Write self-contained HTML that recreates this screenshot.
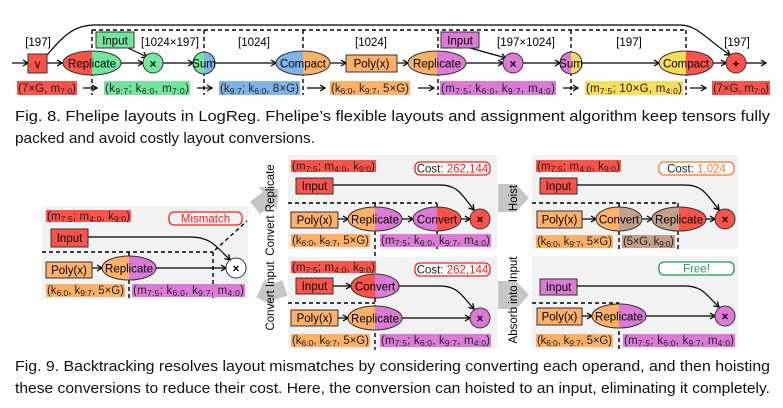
<!DOCTYPE html>
<html><head><meta charset="utf-8"><style>
html,body{margin:0;padding:0;background:#fff;}
svg{display:block;font-family:"Liberation Sans","DejaVu Sans",sans-serif;}
</style></head><body>
<svg width="783" height="408" viewBox="0 0 783 408" xmlns="http://www.w3.org/2000/svg">
<defs>
<marker id="a" markerWidth="8" markerHeight="8" refX="6" refY="4" orient="auto" markerUnits="userSpaceOnUse">
<path d="M1,1 L6,4 L1,7" fill="none" stroke="#000" stroke-width="1.3"/></marker>
</defs>
<style>
.t{font-size:11.5px;fill:#000}
.l{font-size:11.5px;fill:#222}
.s{font-size:8.5px}
.ln{stroke:#000;stroke-width:1.2;fill:none}
.d{stroke:#000;stroke-width:1.4;stroke-dasharray:4,3;fill:none}
.o{stroke:#333;stroke-width:1;}
</style>

<!-- ============ FIG 8 ============ -->
<path class="ln" d="M47,55 C62,38 72,25 95,25 L680,25 C697,25 705,38 730,55" marker-end="url(#a)"/>
<path class="d" d="M92,30 H686 M92,30 V95 M204,30 V95 M303,30 V95 M438,30 V95 M571,30 V95 M686,30 V95"/>

<g class="t" text-anchor="middle">
<text x="38" y="46">[197]</text>
<text x="170" y="46">[1024×197]</text>
<text x="254" y="46">[1024]</text>
<text x="371" y="46">[1024]</text>
<text x="526" y="46">[197×1024]</text>
<text x="629" y="46">[197]</text>
<text x="737" y="46">[197]</text>
</g>

<g class="ln" marker-end="url(#a)">
<line x1="12" y1="63" x2="28" y2="63"/>
<line x1="47" y1="63" x2="62" y2="63"/>
<line x1="120" y1="63" x2="143" y2="63"/>
<line x1="163" y1="63" x2="193" y2="63"/>
<line x1="215" y1="63" x2="276" y2="63"/>
<line x1="330" y1="63" x2="346" y2="63"/>
<line x1="397" y1="63" x2="408" y2="63"/>
<line x1="466" y1="63" x2="503" y2="63"/>
<line x1="523" y1="63" x2="560" y2="63"/>
<line x1="582" y1="63" x2="659" y2="63"/>
<line x1="712" y1="63" x2="726" y2="63"/>
<line x1="746" y1="63" x2="766" y2="63"/>
<line x1="128" y1="48" x2="147" y2="57"/>
<line x1="470" y1="48" x2="506" y2="58"/>
</g>

<rect x="28" y="54" width="19" height="19" fill="#f9534a" class="o"/>
<text x="37.5" y="68" class="t" text-anchor="middle">v</text>
<path d="M92,51 A29,12 0 0 0 92,75 Z" fill="#f9534a"/><path d="M92,51 A29,12 0 0 1 92,75 Z" fill="#72e69d"/>
<ellipse cx="92" cy="63" rx="29" ry="12" fill="none" class="o"/>
<text x="92" y="67.5" class="t" text-anchor="middle">Replicate</text>
<rect x="96" y="32" width="38" height="16" fill="#72e69d" class="o"/>
<text x="115" y="44.5" class="t" text-anchor="middle">Input</text>
<circle cx="153" cy="63" r="10" fill="#72e69d" class="o"/>
<text x="153" y="68" class="t" text-anchor="middle" font-weight="bold">×</text>
<path d="M204,52 A11,11 0 0 0 204,74 Z" fill="#72e69d"/><path d="M204,52 A11,11 0 0 1 204,74 Z" fill="#80b3e8"/>
<circle cx="204" cy="63" r="11" fill="none" class="o"/>
<text x="204" y="67.5" class="t" text-anchor="middle">Sum</text>
<path d="M303,51 A27,12 0 0 0 303,75 Z" fill="#80b3e8"/><path d="M303,51 A27,12 0 0 1 303,75 Z" fill="#fdb068"/>
<ellipse cx="303" cy="63" rx="27" ry="12" fill="none" class="o"/>
<text x="303" y="67.5" class="t" text-anchor="middle">Compact</text>
<rect x="346" y="55" width="51" height="17" fill="#fdb068" class="o"/>
<text x="371.5" y="67.5" class="t" text-anchor="middle">Poly(x)</text>
<path d="M437,51 A29,12 0 0 0 437,75 Z" fill="#fdb068"/><path d="M437,51 A29,12 0 0 1 437,75 Z" fill="#db7bd7"/>
<ellipse cx="437" cy="63" rx="29" ry="12" fill="none" class="o"/>
<text x="437" y="67.5" class="t" text-anchor="middle">Replicate</text>
<rect x="441" y="32" width="38" height="16" fill="#db7bd7" class="o"/>
<text x="460" y="44.5" class="t" text-anchor="middle">Input</text>
<circle cx="513" cy="63" r="10" fill="#db7bd7" class="o"/>
<text x="513" y="68" class="t" text-anchor="middle" font-weight="bold">×</text>
<path d="M571,52 A11,11 0 0 0 571,74 Z" fill="#db7bd7"/><path d="M571,52 A11,11 0 0 1 571,74 Z" fill="#f6dd5c"/>
<circle cx="571" cy="63" r="11" fill="none" class="o"/>
<text x="571" y="67.5" class="t" text-anchor="middle">Sum</text>
<path d="M686,51 A27,12 0 0 0 686,75 Z" fill="#f6dd5c"/><path d="M686,51 A27,12 0 0 1 686,75 Z" fill="#f9534a"/>
<ellipse cx="686" cy="63" rx="27" ry="12" fill="none" class="o"/>
<text x="686" y="67.5" class="t" text-anchor="middle">Compact</text>
<circle cx="736" cy="63" r="10" fill="#f9534a" class="o"/>
<text x="736" y="68" class="t" text-anchor="middle" font-weight="bold">+</text>

<rect x="17" y="81" width="60" height="14" fill="#f9534a"/>
<rect x="104" y="81" width="86" height="14" fill="#72e69d"/>
<rect x="219" y="81" width="81" height="14" fill="#80b3e8"/>
<rect x="330" y="81" width="80" height="14" fill="#fdb068"/>
<rect x="440" y="81" width="116" height="14" fill="#db7bd7"/>
<rect x="585" y="81" width="98" height="14" fill="#f6dd5c"/>
<rect x="712" y="81" width="58" height="14" fill="#f9534a"/>
<g class="l">
<text x="18" y="92" textLength="58">(7×G, m<tspan class="s" dy="2">7:0</tspan><tspan dy="-2">)</tspan></text>
<text x="105" y="92" textLength="84">(k<tspan class="s" dy="2">9:7</tspan><tspan dy="-2">; k</tspan><tspan class="s" dy="2">6:0</tspan><tspan dy="-2">, m</tspan><tspan class="s" dy="2">7:0</tspan><tspan dy="-2">)</tspan></text>
<text x="220" y="92" textLength="79">(k<tspan class="s" dy="2">9:7</tspan><tspan dy="-2">; k</tspan><tspan class="s" dy="2">6:0</tspan><tspan dy="-2">, 8×G)</tspan></text>
<text x="331" y="92" textLength="78">(k<tspan class="s" dy="2">6:0</tspan><tspan dy="-2">, k</tspan><tspan class="s" dy="2">9:7</tspan><tspan dy="-2">, 5×G)</tspan></text>
<text x="441" y="92" textLength="114">(m<tspan class="s" dy="2">7:5</tspan><tspan dy="-2">; k</tspan><tspan class="s" dy="2">6:0</tspan><tspan dy="-2">, k</tspan><tspan class="s" dy="2">9:7</tspan><tspan dy="-2">, m</tspan><tspan class="s" dy="2">4:0</tspan><tspan dy="-2">)</tspan></text>
<text x="586" y="92" textLength="96">(m<tspan class="s" dy="2">7:5</tspan><tspan dy="-2">; 10×G, m</tspan><tspan class="s" dy="2">4:0</tspan><tspan dy="-2">)</tspan></text>
<text x="713" y="92" textLength="56">(7×G, m<tspan class="s" dy="2">7:0</tspan><tspan dy="-2">)</tspan></text>
</g>
<g class="ln" marker-end="url(#a)">
<line x1="83" y1="88" x2="97" y2="88"/><line x1="197" y1="88" x2="212" y2="88"/>
<line x1="307" y1="88" x2="325" y2="88"/><line x1="418" y1="88" x2="434" y2="88"/>
<line x1="563" y1="88" x2="578" y2="88"/><line x1="690" y1="88" x2="706" y2="88"/>
</g>

<g font-family="'Liberation Sans',sans-serif" font-size="15" fill="#111">
<text x="15" y="121" textLength="755" lengthAdjust="spacingAndGlyphs">Fig. 8.  Fhelipe layouts in LogReg. Fhelipe’s flexible layouts and assignment algorithm keep tensors fully</text>
<text x="15" y="143" textLength="300" lengthAdjust="spacingAndGlyphs">packed and avoid costly layout conversions.</text>
</g>

<!-- ============ FIG 9 ============ -->
<g fill="#f2f2f2">
<rect x="42" y="206" width="206" height="93"/>
<rect x="288" y="155" width="209" height="94"/>
<rect x="288" y="257" width="209" height="92"/>
<rect x="532" y="155" width="206" height="94"/>
<rect x="532" y="256" width="206" height="93"/>
</g>

<g fill="#c6c6c6">
<polygon points="0,-8 16,-8 16,-15 30,0 16,15 16,8 0,8" transform="translate(255,208) rotate(-38)"/>
<polygon points="0,-8 16,-8 16,-15 30,0 16,15 16,8 0,8" transform="translate(285,288) rotate(162)"/>
<polygon points="498,184 516,184 529,198 516,212 498,212"/>
<polygon points="498,281 516,281 529,295 516,309 498,309"/>
</g>
<g class="t" text-anchor="middle" font-size="11.5">
<text transform="translate(274,210) rotate(-90)">Convert Replicate</text>
<text transform="translate(274,296) rotate(-90)">Convert Input</text>
<text transform="translate(517,198) rotate(-90)">Hoist</text>
<text transform="translate(517,300) rotate(-90)">Absorb into Input</text>
</g>

<!-- left panel -->
<rect x="46" y="210" width="85" height="12" fill="#f9534a"/>
<text x="47" y="220" class="l" textLength="83">(m<tspan class="s" dy="2">7:5</tspan><tspan dy="-2">; m</tspan><tspan class="s" dy="2">4:0</tspan><tspan dy="-2">, k</tspan><tspan class="s" dy="2">9:0</tspan><tspan dy="-2">)</tspan></text>
<rect x="169" y="212" width="73" height="13" rx="5" fill="#f2f2f2" stroke="#e22" stroke-width="1.3"/>
<text x="205.5" y="222.5" class="l" style="fill:#e22" text-anchor="middle">Mismatch</text>
<rect x="51" y="229" width="37" height="18" fill="#f9534a" class="o"/>
<text x="69.5" y="242" class="t" text-anchor="middle">Input</text>
<path class="ln" d="M88,237 H190 C210,237 215,245 230,260" marker-end="url(#a)"/>
<path class="d" d="M42,252 H213 M129,252 V300 M213,252 V300 M215,250 L247,221"/>
<rect x="46" y="262" width="46" height="16" fill="#fdb068" class="o"/>
<text x="69" y="274" class="t" text-anchor="middle">Poly(x)</text>
<line class="ln" x1="92" y1="268" x2="102" y2="268" marker-end="url(#a)"/>
<path d="M129,256 A27,12 0 0 0 129,280 Z" fill="#fdb068"/><path d="M129,256 A27,12 0 0 1 129,280 Z" fill="#db7bd7"/>
<ellipse cx="129" cy="268" rx="27" ry="12" fill="none" class="o"/>
<text x="129" y="272.5" class="t" text-anchor="middle">Replicate</text>
<line class="ln" x1="156" y1="268" x2="226" y2="268" marker-end="url(#a)"/>
<circle cx="236" cy="268" r="10" fill="#fff" class="o"/>
<text x="236" y="272.5" class="t" text-anchor="middle" font-weight="bold">×</text>
<rect x="46" y="284" width="79" height="13" fill="#fdb068"/>
<rect x="132" y="284" width="113" height="13" fill="#db7bd7"/>
<text x="47" y="294" class="l" textLength="77">(k<tspan class="s" dy="2">6:0</tspan><tspan dy="-2">, k</tspan><tspan class="s" dy="2">9:7</tspan><tspan dy="-2">, 5×G)</tspan></text>
<text x="133" y="294" class="l" textLength="111">(m<tspan class="s" dy="2">7:5</tspan><tspan dy="-2">; k</tspan><tspan class="s" dy="2">6:0</tspan><tspan dy="-2">, k</tspan><tspan class="s" dy="2">9:7</tspan><tspan dy="-2">, m</tspan><tspan class="s" dy="2">4:0</tspan><tspan dy="-2">)</tspan></text>

<!-- top-middle panel -->
<rect x="291" y="160" width="85" height="12" fill="#f9534a"/>
<text x="292" y="170" class="l" textLength="83">(m<tspan class="s" dy="2">7:5</tspan><tspan dy="-2">; m</tspan><tspan class="s" dy="2">4:0</tspan><tspan dy="-2">, k</tspan><tspan class="s" dy="2">9:0</tspan><tspan dy="-2">)</tspan></text>
<rect x="415" y="162" width="75" height="13" rx="5" fill="#fff" stroke="#e22" stroke-width="1.3"/>
<text x="452.5" y="172.5" class="l" text-anchor="middle">Cost: <tspan style="fill:#e22">262,144</tspan></text>
<rect x="296" y="178" width="37" height="16" fill="#f9534a" class="o"/>
<text x="314.5" y="190" class="t" text-anchor="middle">Input</text>
<path class="ln" d="M333,185 H440 C458,185 462,195 474,210" marker-end="url(#a)"/>
<path class="d" d="M288,203 H437 M375,203 V258 M437,203 V249"/>
<rect x="291" y="212" width="47" height="16" fill="#fdb068" class="o"/>
<text x="314.5" y="224" class="t" text-anchor="middle">Poly(x)</text>
<line class="ln" x1="338" y1="219" x2="348" y2="219" marker-end="url(#a)"/>
<path d="M375,207 A27,12 0 0 0 375,231 Z" fill="#fdb068"/><path d="M375,207 A27,12 0 0 1 375,231 Z" fill="#db7bd7"/>
<ellipse cx="375" cy="219" rx="27" ry="12" fill="none" class="o"/>
<text x="375" y="223.5" class="t" text-anchor="middle">Replicate</text>
<line class="ln" x1="402" y1="219" x2="413" y2="219" marker-end="url(#a)"/>
<path d="M437,207 A24,12 0 0 0 437,231 Z" fill="#db7bd7"/><path d="M437,207 A24,12 0 0 1 437,231 Z" fill="#f9534a"/>
<ellipse cx="437" cy="219" rx="24" ry="12" fill="none" class="o"/>
<text x="437" y="223.5" class="t" text-anchor="middle">Convert</text>
<line class="ln" x1="461" y1="219" x2="470" y2="219" marker-end="url(#a)"/>
<circle cx="480" cy="219" r="10" fill="#f9534a" class="o"/>
<text x="480" y="223.5" class="t" text-anchor="middle" font-weight="bold">×</text>
<rect x="291" y="234" width="79" height="13" fill="#fdb068"/>
<rect x="380" y="234" width="111" height="13" fill="#db7bd7"/>
<text x="292" y="244" class="l" textLength="77">(k<tspan class="s" dy="2">6:0</tspan><tspan dy="-2">, k</tspan><tspan class="s" dy="2">9:7</tspan><tspan dy="-2">, 5×G)</tspan></text>
<text x="381" y="244" class="l" textLength="109">(m<tspan class="s" dy="2">7:5</tspan><tspan dy="-2">; k</tspan><tspan class="s" dy="2">6:0</tspan><tspan dy="-2">, k</tspan><tspan class="s" dy="2">9:7</tspan><tspan dy="-2">, m</tspan><tspan class="s" dy="2">4:0</tspan><tspan dy="-2">)</tspan></text>

<!-- bottom-middle panel -->
<rect x="291" y="261" width="85" height="12" fill="#f9534a"/>
<text x="292" y="271" class="l" textLength="83">(m<tspan class="s" dy="2">7:5</tspan><tspan dy="-2">; m</tspan><tspan class="s" dy="2">4:0</tspan><tspan dy="-2">, k</tspan><tspan class="s" dy="2">9:0</tspan><tspan dy="-2">)</tspan></text>
<rect x="415" y="263" width="75" height="13" rx="5" fill="#fff" stroke="#e22" stroke-width="1.3"/>
<text x="452.5" y="273.5" class="l" text-anchor="middle">Cost: <tspan style="fill:#e22">262,144</tspan></text>
<rect x="296" y="278" width="37" height="16" fill="#f9534a" class="o"/>
<text x="314.5" y="290" class="t" text-anchor="middle">Input</text>
<line class="ln" x1="333" y1="286" x2="351" y2="286" marker-end="url(#a)"/>
<path d="M375,274 A24,12 0 0 0 375,298 Z" fill="#f9534a"/><path d="M375,274 A24,12 0 0 1 375,298 Z" fill="#db7bd7"/>
<ellipse cx="375" cy="286" rx="24" ry="12" fill="none" class="o"/>
<text x="375" y="290.5" class="t" text-anchor="middle">Convert</text>
<path class="ln" d="M399,286 H440 C458,286 462,296 474,309" marker-end="url(#a)"/>
<path class="d" d="M288,303 H375 M375,298 V350"/>
<rect x="291" y="310" width="47" height="16" fill="#fdb068" class="o"/>
<text x="314.5" y="322" class="t" text-anchor="middle">Poly(x)</text>
<line class="ln" x1="338" y1="318" x2="348" y2="318" marker-end="url(#a)"/>
<path d="M375,306 A27,12 0 0 0 375,330 Z" fill="#fdb068"/><path d="M375,306 A27,12 0 0 1 375,330 Z" fill="#db7bd7"/>
<ellipse cx="375" cy="318" rx="27" ry="12" fill="none" class="o"/>
<text x="375" y="322.5" class="t" text-anchor="middle">Replicate</text>
<line class="ln" x1="402" y1="318" x2="470" y2="318" marker-end="url(#a)"/>
<circle cx="480" cy="318" r="10" fill="#db7bd7" class="o"/>
<text x="480" y="322.5" class="t" text-anchor="middle" font-weight="bold">×</text>
<rect x="291" y="334" width="79" height="13" fill="#fdb068"/>
<rect x="380" y="334" width="111" height="13" fill="#db7bd7"/>
<text x="292" y="344" class="l" textLength="77">(k<tspan class="s" dy="2">6:0</tspan><tspan dy="-2">, k</tspan><tspan class="s" dy="2">9:7</tspan><tspan dy="-2">, 5×G)</tspan></text>
<text x="381" y="344" class="l" textLength="109">(m<tspan class="s" dy="2">7:5</tspan><tspan dy="-2">; k</tspan><tspan class="s" dy="2">6:0</tspan><tspan dy="-2">, k</tspan><tspan class="s" dy="2">9:7</tspan><tspan dy="-2">, m</tspan><tspan class="s" dy="2">4:0</tspan><tspan dy="-2">)</tspan></text>

<!-- top-right panel -->
<rect x="536" y="160" width="85" height="12" fill="#f9534a"/>
<text x="537" y="170" class="l" textLength="83">(m<tspan class="s" dy="2">7:5</tspan><tspan dy="-2">; m</tspan><tspan class="s" dy="2">4:0</tspan><tspan dy="-2">, k</tspan><tspan class="s" dy="2">9:0</tspan><tspan dy="-2">)</tspan></text>
<rect x="659" y="162" width="75" height="13" rx="5" fill="#fff" stroke="#f07a2a" stroke-width="1.3"/>
<text x="696.5" y="172.5" class="l" text-anchor="middle">Cost: <tspan style="fill:#f07a2a">1,024</tspan></text>
<rect x="540" y="178" width="37" height="16" fill="#f9534a" class="o"/>
<text x="558.5" y="190" class="t" text-anchor="middle">Input</text>
<path class="ln" d="M577,185 H685 C703,185 707,195 719,210" marker-end="url(#a)"/>
<path class="d" d="M532,203 H678 M619,203 V249 M678,203 V249"/>
<rect x="537" y="211" width="45" height="17" fill="#fdb068" class="o"/>
<text x="559.5" y="223.5" class="t" text-anchor="middle">Poly(x)</text>
<line class="ln" x1="582" y1="219" x2="596" y2="219" marker-end="url(#a)"/>
<path d="M619,207 A23,12 0 0 0 619,231 Z" fill="#fdb068"/><path d="M619,207 A23,12 0 0 1 619,231 Z" fill="#c4a08a"/>
<ellipse cx="619" cy="219" rx="23" ry="12" fill="none" class="o"/>
<text x="619" y="223.5" class="t" text-anchor="middle">Convert</text>
<line class="ln" x1="642" y1="219" x2="652" y2="219" marker-end="url(#a)"/>
<path d="M679,207 A27,12 0 0 0 679,231 Z" fill="#c4a08a"/><path d="M679,207 A27,12 0 0 1 679,231 Z" fill="#f9534a"/>
<ellipse cx="679" cy="219" rx="27" ry="12" fill="none" class="o"/>
<text x="679" y="223.5" class="t" text-anchor="middle">Replicate</text>
<line class="ln" x1="706" y1="219" x2="715" y2="219" marker-end="url(#a)"/>
<circle cx="725" cy="219" r="10" fill="#f9534a" class="o"/>
<text x="725" y="223.5" class="t" text-anchor="middle" font-weight="bold">×</text>
<rect x="536" y="235" width="77" height="13" fill="#fdb068"/>
<rect x="622" y="235" width="53" height="13" fill="#c4a08a"/>
<text x="537" y="245" class="l" textLength="75">(k<tspan class="s" dy="2">6:0</tspan><tspan dy="-2">, k</tspan><tspan class="s" dy="2">9:7</tspan><tspan dy="-2">, 5×G)</tspan></text>
<text x="623" y="245" class="l" textLength="51">(5×G, k<tspan class="s" dy="2">9:0</tspan><tspan dy="-2">)</tspan></text>

<!-- bottom-right panel -->
<rect x="659" y="262" width="75" height="13" rx="5" fill="#fff" stroke="#1a9a5a" stroke-width="1.3"/>
<text x="696.5" y="272.5" class="l" text-anchor="middle" style="fill:#1a9a5a">Free!</text>
<rect x="540" y="279" width="37" height="16" fill="#db7bd7" class="o"/>
<text x="558.5" y="291" class="t" text-anchor="middle">Input</text>
<path class="ln" d="M577,286 H685 C703,286 707,296 719,307" marker-end="url(#a)"/>
<path class="d" d="M532,303 H619 M619,303 V350"/>
<rect x="537" y="308" width="45" height="17" fill="#fdb068" class="o"/>
<text x="559.5" y="320.5" class="t" text-anchor="middle">Poly(x)</text>
<line class="ln" x1="582" y1="316" x2="592" y2="316" marker-end="url(#a)"/>
<path d="M619,304 A27,12 0 0 0 619,328 Z" fill="#fdb068"/><path d="M619,304 A27,12 0 0 1 619,328 Z" fill="#db7bd7"/>
<ellipse cx="619" cy="316" rx="27" ry="12" fill="none" class="o"/>
<text x="619" y="320.5" class="t" text-anchor="middle">Replicate</text>
<line class="ln" x1="646" y1="316" x2="715" y2="316" marker-end="url(#a)"/>
<circle cx="725" cy="316" r="10" fill="#db7bd7" class="o"/>
<text x="725" y="320.5" class="t" text-anchor="middle" font-weight="bold">×</text>
<rect x="536" y="334" width="77" height="13" fill="#fdb068"/>
<rect x="623" y="334" width="112" height="13" fill="#db7bd7"/>
<text x="537" y="344" class="l" textLength="75">(k<tspan class="s" dy="2">6:0</tspan><tspan dy="-2">, k</tspan><tspan class="s" dy="2">9:7</tspan><tspan dy="-2">, 5×G)</tspan></text>
<text x="624" y="344" class="l" textLength="110">(m<tspan class="s" dy="2">7:5</tspan><tspan dy="-2">; k</tspan><tspan class="s" dy="2">6:0</tspan><tspan dy="-2">, k</tspan><tspan class="s" dy="2">9:7</tspan><tspan dy="-2">, m</tspan><tspan class="s" dy="2">4:0</tspan><tspan dy="-2">)</tspan></text>

<g font-family="'Liberation Sans',sans-serif" font-size="15" fill="#111">
<text x="15" y="371" textLength="755" lengthAdjust="spacingAndGlyphs">Fig. 9.  Backtracking resolves layout mismatches by considering converting each operand, and then hoisting</text>
<text x="15" y="393" textLength="755" lengthAdjust="spacingAndGlyphs">these conversions to reduce their cost. Here, the conversion can hoisted to an input, eliminating it completely.</text>
</g>
</svg>
</body></html>
